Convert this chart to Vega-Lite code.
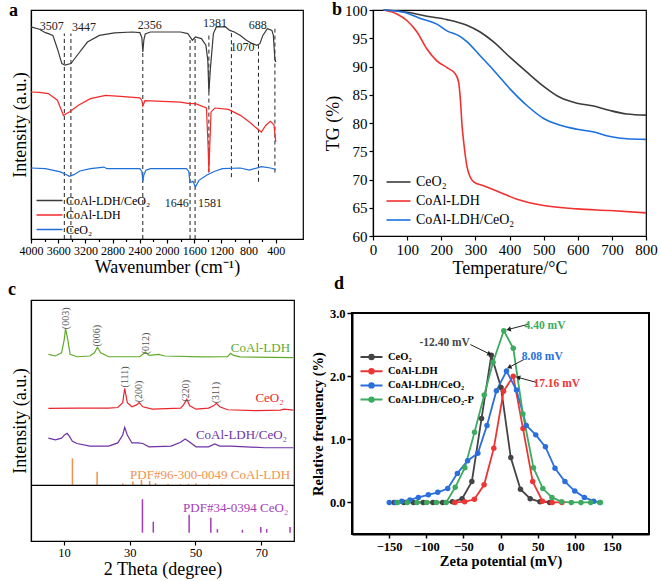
{
"$schema": "https://vega.github.io/schema/vega-lite/v6.json",
"padding": {"left": 7, "top": 0, "right": 0, "bottom": 0},
"background": "white",
"config": {
  "font": "Liberation Serif",
  "view": {"stroke": "black", "strokeWidth": 1.2},
  "axis": {"grid": false, "domainColor": "black", "domainWidth": 1.2, "tickColor": "black", "tickWidth": 1.2, "tickSize": 4, "labelColor": "black", "titleColor": "black", "titleFontWeight": "normal", "labelFlush": false, "labelOverlap": false, "labelPadding": 2, "titlePadding": 4, "labelFont": "Liberation Serif", "titleFont": "Liberation Serif"},
  "legend": {"labelFont": "Liberation Serif", "labelColor": "black", "padding": 0},
  "title": {"font": "Liberation Serif", "fontSize": 18, "fontWeight": "bold", "anchor": "start", "frame": "group", "color": "black"},
  "text": {"font": "Liberation Serif"}
},
"spacing": -3,
"resolve": {"scale": {"color": "independent"}, "legend": {"color": "independent"}},
"vconcat": [
 {"spacing": 19, "resolve": {"scale": {"color": "independent"}, "legend": {"color": "independent"}}, "hconcat": [
  {
   "width": 272, "height": 229,
   "title": {"text": "a", "dx": -22, "offset": -10},
   "resolve": {"axis": {"x": "independent"}},
   "layer": [
    {
     "data": {"values": [
       {"wn": 3510, "lo": 0, "hi": 89.7}, {"wn": 3413, "lo": 0, "hi": 89.7}, {"wn": 2356, "lo": 0, "hi": 81.7},
       {"wn": 1661, "lo": 0, "hi": 86.8}, {"wn": 1587, "lo": 0, "hi": 88.2}, {"wn": 1384, "lo": 29, "hi": 89.7},
       {"wn": 1053, "lo": 27, "hi": 91.1}, {"wn": 655, "lo": 25, "hi": 84.6}, {"wn": 413, "lo": 29, "hi": 91.8}
     ]},
     "mark": {"type": "rule", "strokeDash": [4, 3], "color": "#222", "strokeWidth": 1},
     "encoding": {
       "x": {"field": "wn", "type": "quantitative", "scale": {"domain": [400, 4000], "reverse": true},
             "axis": {"orient": "bottom", "values": [4000, 3600, 3200, 2800, 2400, 2000, 1600, 1200, 800, 400], "format": "d", "title": "Wavenumber (cm⁻¹)", "labelFontSize": 12, "titleFontSize": 18, "titlePadding": 2}},
       "y": {"field": "lo", "type": "quantitative", "scale": {"domain": [0, 100]},
             "axis": {"title": "Intensity (a.u.)", "labels": false, "ticks": false, "titleFontSize": 18, "titlePadding": 2}},
       "y2": {"field": "hi"}
     }
    },
    {
     "data": {"values": [
       {"s": "CoAl-LDH/CeO₂", "wn": 4000, "v": 92.6}, {"s": "CoAl-LDH/CeO₂", "wn": 3877, "v": 91.6}, {"s": "CoAl-LDH/CeO₂", "wn": 3788, "v": 90.1}, {"s": "CoAl-LDH/CeO₂", "wn": 3745, "v": 89.7}, {"s": "CoAl-LDH/CeO₂", "wn": 3678, "v": 88.9}, {"s": "CoAl-LDH/CeO₂", "wn": 3612, "v": 83.1}, {"s": "CoAl-LDH/CeO₂", "wn": 3546, "v": 76.6}, {"s": "CoAl-LDH/CeO₂", "wn": 3501, "v": 75.9}, {"s": "CoAl-LDH/CeO₂", "wn": 3413, "v": 76.6}, {"s": "CoAl-LDH/CeO₂", "wn": 3303, "v": 80.9}, {"s": "CoAl-LDH/CeO₂", "wn": 3170, "v": 86.0}, {"s": "CoAl-LDH/CeO₂", "wn": 2994, "v": 88.9}, {"s": "CoAl-LDH/CeO₂", "wn": 2773, "v": 90.0}, {"s": "CoAl-LDH/CeO₂", "wn": 2508, "v": 90.4}, {"s": "CoAl-LDH/CeO₂", "wn": 2399, "v": 90.1}, {"s": "CoAl-LDH/CeO₂", "wn": 2370, "v": 88.0}, {"s": "CoAl-LDH/CeO₂", "wn": 2355, "v": 81.7}, {"s": "CoAl-LDH/CeO₂", "wn": 2340, "v": 87.0}, {"s": "CoAl-LDH/CeO₂", "wn": 2320, "v": 89.5}, {"s": "CoAl-LDH/CeO₂", "wn": 2244, "v": 90.4}, {"s": "CoAl-LDH/CeO₂", "wn": 1803, "v": 90.4}, {"s": "CoAl-LDH/CeO₂", "wn": 1693, "v": 89.7}, {"s": "CoAl-LDH/CeO₂", "wn": 1627, "v": 86.8}, {"s": "CoAl-LDH/CeO₂", "wn": 1582, "v": 88.2}, {"s": "CoAl-LDH/CeO₂", "wn": 1494, "v": 87.5}, {"s": "CoAl-LDH/CeO₂", "wn": 1428, "v": 84.6}, {"s": "CoAl-LDH/CeO₂", "wn": 1400, "v": 78.0}, {"s": "CoAl-LDH/CeO₂", "wn": 1384, "v": 64.2}, {"s": "CoAl-LDH/CeO₂", "wn": 1362, "v": 74.4}, {"s": "CoAl-LDH/CeO₂", "wn": 1318, "v": 89.7}, {"s": "CoAl-LDH/CeO₂", "wn": 1274, "v": 92.6}, {"s": "CoAl-LDH/CeO₂", "wn": 1141, "v": 92.6}, {"s": "CoAl-LDH/CeO₂", "wn": 1075, "v": 91.1}, {"s": "CoAl-LDH/CeO₂", "wn": 1009, "v": 90.4}, {"s": "CoAl-LDH/CeO₂", "wn": 921, "v": 88.9}, {"s": "CoAl-LDH/CeO₂", "wn": 832, "v": 86.8}, {"s": "CoAl-LDH/CeO₂", "wn": 744, "v": 85.3}, {"s": "CoAl-LDH/CeO₂", "wn": 678, "v": 84.6}, {"s": "CoAl-LDH/CeO₂", "wn": 634, "v": 85.3}, {"s": "CoAl-LDH/CeO₂", "wn": 590, "v": 88.9}, {"s": "CoAl-LDH/CeO₂", "wn": 524, "v": 91.8}, {"s": "CoAl-LDH/CeO₂", "wn": 457, "v": 91.1}, {"s": "CoAl-LDH/CeO₂", "wn": 436, "v": 88.9}, {"s": "CoAl-LDH/CeO₂", "wn": 414, "v": 78.7}, {"s": "CoAl-LDH/CeO₂", "wn": 400, "v": 77.3},
       {"s": "CoAl-LDH", "wn": 4000, "v": 64.2}, {"s": "CoAl-LDH", "wn": 3877, "v": 64.0}, {"s": "CoAl-LDH", "wn": 3745, "v": 63.5}, {"s": "CoAl-LDH", "wn": 3612, "v": 60.6}, {"s": "CoAl-LDH", "wn": 3523, "v": 54.0}, {"s": "CoAl-LDH", "wn": 3435, "v": 55.5}, {"s": "CoAl-LDH", "wn": 3303, "v": 58.4}, {"s": "CoAl-LDH", "wn": 3126, "v": 61.3}, {"s": "CoAl-LDH", "wn": 2905, "v": 62.7}, {"s": "CoAl-LDH", "wn": 2685, "v": 62.3}, {"s": "CoAl-LDH", "wn": 2399, "v": 61.6}, {"s": "CoAl-LDH", "wn": 2370, "v": 60.5}, {"s": "CoAl-LDH", "wn": 2355, "v": 58.1}, {"s": "CoAl-LDH", "wn": 2324, "v": 60.4}, {"s": "CoAl-LDH", "wn": 1803, "v": 59.8}, {"s": "CoAl-LDH", "wn": 1671, "v": 59.1}, {"s": "CoAl-LDH", "wn": 1582, "v": 59.1}, {"s": "CoAl-LDH", "wn": 1420, "v": 57.2}, {"s": "CoAl-LDH", "wn": 1395, "v": 40.0}, {"s": "CoAl-LDH", "wn": 1384, "v": 29.3}, {"s": "CoAl-LDH", "wn": 1372, "v": 40.0}, {"s": "CoAl-LDH", "wn": 1352, "v": 55.5}, {"s": "CoAl-LDH", "wn": 1296, "v": 57.2}, {"s": "CoAl-LDH", "wn": 1097, "v": 56.6}, {"s": "CoAl-LDH", "wn": 921, "v": 54.0}, {"s": "CoAl-LDH", "wn": 788, "v": 51.1}, {"s": "CoAl-LDH", "wn": 656, "v": 47.7}, {"s": "CoAl-LDH", "wn": 612, "v": 46.7}, {"s": "CoAl-LDH", "wn": 546, "v": 49.7}, {"s": "CoAl-LDH", "wn": 480, "v": 51.4}, {"s": "CoAl-LDH", "wn": 427, "v": 49.9}, {"s": "CoAl-LDH", "wn": 410, "v": 45.0}, {"s": "CoAl-LDH", "wn": 400, "v": 42.4},
       {"s": "CeO₂", "wn": 4000, "v": 31.0}, {"s": "CeO₂", "wn": 3788, "v": 30.7}, {"s": "CeO₂", "wn": 3567, "v": 29.3}, {"s": "CeO₂", "wn": 3501, "v": 28.4}, {"s": "CeO₂", "wn": 3435, "v": 27.4}, {"s": "CeO₂", "wn": 3369, "v": 28.1}, {"s": "CeO₂", "wn": 3281, "v": 29.7}, {"s": "CeO₂", "wn": 3126, "v": 30.7}, {"s": "CeO₂", "wn": 2927, "v": 31.4}, {"s": "CeO₂", "wn": 2883, "v": 30.7}, {"s": "CeO₂", "wn": 2399, "v": 30.7}, {"s": "CeO₂", "wn": 2370, "v": 29.5}, {"s": "CeO₂", "wn": 2355, "v": 25.2}, {"s": "CeO₂", "wn": 2340, "v": 28.0}, {"s": "CeO₂", "wn": 2310, "v": 30.0}, {"s": "CeO₂", "wn": 2244, "v": 30.7}, {"s": "CeO₂", "wn": 1715, "v": 30.7}, {"s": "CeO₂", "wn": 1680, "v": 29.5}, {"s": "CeO₂", "wn": 1662, "v": 24.6}, {"s": "CeO₂", "wn": 1618, "v": 25.2}, {"s": "CeO₂", "wn": 1582, "v": 22.7}, {"s": "CeO₂", "wn": 1530, "v": 25.6}, {"s": "CeO₂", "wn": 1406, "v": 28.1}, {"s": "CeO₂", "wn": 1296, "v": 29.6}, {"s": "CeO₂", "wn": 1186, "v": 30.7}, {"s": "CeO₂", "wn": 921, "v": 31.0}, {"s": "CeO₂", "wn": 788, "v": 30.1}, {"s": "CeO₂", "wn": 612, "v": 31.6}, {"s": "CeO₂", "wn": 480, "v": 31.0}, {"s": "CeO₂", "wn": 400, "v": 30.4}
     ]},
     "mark": {"type": "line", "strokeWidth": 1.2},
     "encoding": {
       "x": {"field": "wn", "type": "quantitative", "axis": null},
       "y": {"field": "v", "type": "quantitative"},
       "color": {"field": "s", "type": "nominal",
                 "scale": {"domain": ["CoAl-LDH/CeO₂", "CoAl-LDH", "CeO₂"], "range": ["#3a3a3a", "#f22a2a", "#1f6fd8"]},
                 "legend": {"title": null, "orient": "none", "legendX": 11, "legendY": 183, "labelFontSize": 12, "symbolType": "M-2,0L2,0", "symbolSize": 169, "symbolStrokeWidth": 1.5, "rowPadding": 0.5, "labelOffset": 9}}
     }
    },
    {
     "data": {"values": [
       {"wn": 3696, "v": 93.0, "label": "3507"}, {"wn": 3219, "v": 92.6, "label": "3447"}, {"wn": 2253, "v": 93.4, "label": "2356"},
       {"wn": 1293, "v": 94.3, "label": "1381"}, {"wn": 665, "v": 93.4, "label": "688"}, {"wn": 890, "v": 83.8, "label": "1070"},
       {"wn": 1856, "v": 15.7, "label": "1646"}, {"wn": 1366, "v": 15.7, "label": "1581"}
     ]},
     "mark": {"type": "text", "fontSize": 12, "color": "#222"},
     "encoding": {
       "x": {"field": "wn", "type": "quantitative",
             "axis": {"orient": "bottom", "values": [3800, 3400, 3000, 2600, 2200, 1800, 1400, 1000, 600], "labels": false, "title": null, "domain": false, "tickSize": 2.5}},
       "y": {"field": "v", "type": "quantitative"},
       "text": {"field": "label"}
     }
    }
   ]
  },
  {
   "width": 273, "height": 226,
   "title": {"text": "b", "dx": -41, "offset": -16},
   "data": {"values": [
     {"s": "CeO₂", "T": 31, "TG": 100}, {"s": "CeO₂", "T": 100, "TG": 99.6}, {"s": "CeO₂", "T": 158, "TG": 98.9}, {"s": "CeO₂", "T": 217, "TG": 98.3}, {"s": "CeO₂", "T": 275, "TG": 97.3}, {"s": "CeO₂", "T": 314, "TG": 96.1}, {"s": "CeO₂", "T": 354, "TG": 94.3}, {"s": "CeO₂", "T": 402, "TG": 91.6}, {"s": "CeO₂", "T": 451, "TG": 89.0}, {"s": "CeO₂", "T": 500, "TG": 86.5}, {"s": "CeO₂", "T": 549, "TG": 84.5}, {"s": "CeO₂", "T": 598, "TG": 83.5}, {"s": "CeO₂", "T": 647, "TG": 83.0}, {"s": "CeO₂", "T": 695, "TG": 82.2}, {"s": "CeO₂", "T": 744, "TG": 81.6}, {"s": "CeO₂", "T": 800, "TG": 81.4},
     {"s": "CoAl-LDH", "T": 31, "TG": 100}, {"s": "CoAl-LDH", "T": 70, "TG": 99.3}, {"s": "CoAl-LDH", "T": 100, "TG": 98.1}, {"s": "CoAl-LDH", "T": 129, "TG": 96.1}, {"s": "CoAl-LDH", "T": 158, "TG": 93.1}, {"s": "CoAl-LDH", "T": 187, "TG": 91.0}, {"s": "CoAl-LDH", "T": 217, "TG": 89.8}, {"s": "CoAl-LDH", "T": 241, "TG": 88.7}, {"s": "CoAl-LDH", "T": 251, "TG": 87.2}, {"s": "CoAl-LDH", "T": 256, "TG": 84.2}, {"s": "CoAl-LDH", "T": 261, "TG": 79.5}, {"s": "CoAl-LDH", "T": 266, "TG": 76.5}, {"s": "CoAl-LDH", "T": 275, "TG": 72.4}, {"s": "CoAl-LDH", "T": 285, "TG": 70.4}, {"s": "CoAl-LDH", "T": 295, "TG": 69.6}, {"s": "CoAl-LDH", "T": 324, "TG": 68.9}, {"s": "CoAl-LDH", "T": 373, "TG": 67.7}, {"s": "CoAl-LDH", "T": 422, "TG": 66.5}, {"s": "CoAl-LDH", "T": 500, "TG": 65.4}, {"s": "CoAl-LDH", "T": 598, "TG": 64.8}, {"s": "CoAl-LDH", "T": 695, "TG": 64.5}, {"s": "CoAl-LDH", "T": 800, "TG": 64.1},
     {"s": "CoAl-LDH/CeO₂", "T": 31, "TG": 100}, {"s": "CoAl-LDH/CeO₂", "T": 90, "TG": 99.6}, {"s": "CoAl-LDH/CeO₂", "T": 139, "TG": 98.5}, {"s": "CoAl-LDH/CeO₂", "T": 187, "TG": 97.5}, {"s": "CoAl-LDH/CeO₂", "T": 217, "TG": 96.3}, {"s": "CoAl-LDH/CeO₂", "T": 256, "TG": 95.3}, {"s": "CoAl-LDH/CeO₂", "T": 275, "TG": 94.4}, {"s": "CoAl-LDH/CeO₂", "T": 314, "TG": 91.9}, {"s": "CoAl-LDH/CeO₂", "T": 354, "TG": 89.3}, {"s": "CoAl-LDH/CeO₂", "T": 402, "TG": 86.0}, {"s": "CoAl-LDH/CeO₂", "T": 451, "TG": 83.1}, {"s": "CoAl-LDH/CeO₂", "T": 500, "TG": 80.8}, {"s": "CoAl-LDH/CeO₂", "T": 549, "TG": 79.6}, {"s": "CoAl-LDH/CeO₂", "T": 598, "TG": 78.9}, {"s": "CoAl-LDH/CeO₂", "T": 647, "TG": 78.4}, {"s": "CoAl-LDH/CeO₂", "T": 695, "TG": 77.6}, {"s": "CoAl-LDH/CeO₂", "T": 744, "TG": 77.2}, {"s": "CoAl-LDH/CeO₂", "T": 800, "TG": 77.1}
   ]},
   "mark": {"type": "line", "strokeWidth": 1.6, "interpolate": "monotone"},
   "encoding": {
     "x": {"field": "T", "type": "quantitative", "scale": {"domain": [0, 800]},
           "axis": {"values": [0, 100, 200, 300, 400, 500, 600, 700, 800], "title": "Temperature/°C", "labelFontSize": 15, "titleFontSize": 18, "titlePadding": 2}},
     "y": {"field": "TG", "type": "quantitative", "scale": {"domain": [60, 100]},
           "axis": {"values": [60, 65, 70, 75, 80, 85, 90, 95, 100], "title": "TG (%)", "labelFontSize": 15, "titleFontSize": 18, "titlePadding": 2}},
     "color": {"field": "s", "type": "nominal",
               "scale": {"domain": ["CeO₂", "CoAl-LDH", "CoAl-LDH/CeO₂"], "range": ["#3c3c3c", "#f23030", "#1a70e0"]},
               "legend": {"title": null, "orient": "none", "legendX": 18.5, "legendY": 165, "labelFontSize": 14, "symbolType": "M-2,0L2,0", "symbolSize": 144, "symbolStrokeWidth": 1.6, "rowPadding": 5, "labelOffset": 10.5}}
   }
  }
 ]},
 {"spacing": 12, "resolve": {"scale": {"color": "independent"}, "legend": {"color": "independent"}}, "hconcat": [
  {
   "width": 263, "height": 241,
   "title": {"text": "c", "dx": -23, "offset": 1},
   "layer": [
    {
     "data": {"values": [
       {"s": "CoAl-LDH", "t": 5.3, "v": 70.7}, {"s": "CoAl-LDH", "t": 7.4, "v": 69.8}, {"s": "CoAl-LDH", "t": 9.3, "v": 71.5}, {"s": "CoAl-LDH", "t": 10.1, "v": 78.5}, {"s": "CoAl-LDH", "t": 10.5, "v": 84.5}, {"s": "CoAl-LDH", "t": 11.2, "v": 78.5}, {"s": "CoAl-LDH", "t": 11.9, "v": 70.7}, {"s": "CoAl-LDH", "t": 14.0, "v": 69.4}, {"s": "CoAl-LDH", "t": 17.9, "v": 69.8}, {"s": "CoAl-LDH", "t": 19.3, "v": 71.5}, {"s": "CoAl-LDH", "t": 20.2, "v": 74.5}, {"s": "CoAl-LDH", "t": 21.2, "v": 71.5}, {"s": "CoAl-LDH", "t": 23.6, "v": 69.4}, {"s": "CoAl-LDH", "t": 33.1, "v": 69.4}, {"s": "CoAl-LDH", "t": 34.0, "v": 70.7}, {"s": "CoAl-LDH", "t": 34.8, "v": 71.9}, {"s": "CoAl-LDH", "t": 35.9, "v": 70.1}, {"s": "CoAl-LDH", "t": 38.8, "v": 70.7}, {"s": "CoAl-LDH", "t": 40.7, "v": 69.8}, {"s": "CoAl-LDH", "t": 52.1, "v": 69.3}, {"s": "CoAl-LDH", "t": 59.8, "v": 69.4}, {"s": "CoAl-LDH", "t": 60.7, "v": 71.2}, {"s": "CoAl-LDH", "t": 61.7, "v": 70.1}, {"s": "CoAl-LDH", "t": 63.6, "v": 69.3}, {"s": "CoAl-LDH", "t": 79.8, "v": 68.9},
       {"s": "CeO₂", "t": 5.3, "v": 41.5}, {"s": "CeO₂", "t": 14.0, "v": 41.7}, {"s": "CeO₂", "t": 23.6, "v": 41.7}, {"s": "CeO₂", "t": 26.4, "v": 42.0}, {"s": "CeO₂", "t": 27.9, "v": 44.6}, {"s": "CeO₂", "t": 28.5, "v": 52.4}, {"s": "CeO₂", "t": 29.3, "v": 44.6}, {"s": "CeO₂", "t": 30.7, "v": 42.4}, {"s": "CeO₂", "t": 32.1, "v": 43.4}, {"s": "CeO₂", "t": 32.9, "v": 44.6}, {"s": "CeO₂", "t": 34.0, "v": 42.4}, {"s": "CeO₂", "t": 36.9, "v": 41.1}, {"s": "CeO₂", "t": 45.5, "v": 41.7}, {"s": "CeO₂", "t": 46.4, "v": 43.4}, {"s": "CeO₂", "t": 47.4, "v": 46.4}, {"s": "CeO₂", "t": 48.3, "v": 42.9}, {"s": "CeO₂", "t": 50.2, "v": 41.1}, {"s": "CeO₂", "t": 54.0, "v": 41.7}, {"s": "CeO₂", "t": 55.5, "v": 42.9}, {"s": "CeO₂", "t": 56.4, "v": 44.3}, {"s": "CeO₂", "t": 57.4, "v": 42.4}, {"s": "CeO₂", "t": 59.8, "v": 40.8}, {"s": "CeO₂", "t": 68.3, "v": 40.3}, {"s": "CeO₂", "t": 75.9, "v": 40.6}, {"s": "CeO₂", "t": 76.9, "v": 41.1}, {"s": "CeO₂", "t": 79.8, "v": 40.6},
       {"s": "CoAl-LDH/CeO₂", "t": 5.3, "v": 25.5}, {"s": "CoAl-LDH/CeO₂", "t": 7.4, "v": 24.6}, {"s": "CoAl-LDH/CeO₂", "t": 9.3, "v": 25.5}, {"s": "CoAl-LDH/CeO₂", "t": 10.2, "v": 27.2}, {"s": "CoAl-LDH/CeO₂", "t": 11.0, "v": 28.1}, {"s": "CoAl-LDH/CeO₂", "t": 11.7, "v": 26.4}, {"s": "CoAl-LDH/CeO₂", "t": 12.6, "v": 23.8}, {"s": "CoAl-LDH/CeO₂", "t": 14.0, "v": 22.6}, {"s": "CoAl-LDH/CeO₂", "t": 17.9, "v": 21.2}, {"s": "CoAl-LDH/CeO₂", "t": 23.6, "v": 21.2}, {"s": "CoAl-LDH/CeO₂", "t": 26.4, "v": 22.9}, {"s": "CoAl-LDH/CeO₂", "t": 27.9, "v": 27.2}, {"s": "CoAl-LDH/CeO₂", "t": 28.5, "v": 31.3}, {"s": "CoAl-LDH/CeO₂", "t": 29.3, "v": 27.2}, {"s": "CoAl-LDH/CeO₂", "t": 30.7, "v": 22.9}, {"s": "CoAl-LDH/CeO₂", "t": 32.6, "v": 22.9}, {"s": "CoAl-LDH/CeO₂", "t": 34.0, "v": 22.6}, {"s": "CoAl-LDH/CeO₂", "t": 35.9, "v": 20.8}, {"s": "CoAl-LDH/CeO₂", "t": 42.6, "v": 21.2}, {"s": "CoAl-LDH/CeO₂", "t": 45.5, "v": 23.3}, {"s": "CoAl-LDH/CeO₂", "t": 46.9, "v": 25.0}, {"s": "CoAl-LDH/CeO₂", "t": 47.9, "v": 23.8}, {"s": "CoAl-LDH/CeO₂", "t": 50.2, "v": 20.8}, {"s": "CoAl-LDH/CeO₂", "t": 54.0, "v": 20.8}, {"s": "CoAl-LDH/CeO₂", "t": 55.9, "v": 22.4}, {"s": "CoAl-LDH/CeO₂", "t": 57.4, "v": 21.2}, {"s": "CoAl-LDH/CeO₂", "t": 60.7, "v": 21.2}, {"s": "CoAl-LDH/CeO₂", "t": 71.2, "v": 20.3}, {"s": "CoAl-LDH/CeO₂", "t": 79.8, "v": 20.3}
     ]},
     "mark": {"type": "line", "strokeWidth": 1.2},
     "encoding": {
       "x": {"field": "t", "type": "quantitative", "scale": {"domain": [5, 80]},
             "axis": {"values": [10, 20, 30, 40, 50, 60, 70, 80], "title": "2 Theta (degree)", "labelFontSize": 12.5, "titleFontSize": 18, "labelPadding": 1, "titlePadding": 2}},
       "y": {"field": "v", "type": "quantitative", "scale": {"domain": [-25.5, 100]},
             "axis": {"title": "Intensity (a.u.)", "labels": false, "ticks": false, "titleFontSize": 18, "titlePadding": 2}},
       "color": {"field": "s", "type": "nominal", "legend": null,
                 "scale": {"domain": ["CoAl-LDH", "CeO₂", "CoAl-LDH/CeO₂", "PDF#96-300-0049 CoAl-LDH", "PDF#34-0394 CeO₂"], "range": ["#62aa2c", "#e8262d", "#6e32a6", "#f2924a", "#a43cb8"]}}
     }
    },
    {
     "data": {"values": [
       {"s": "PDF#96-300-0049 CoAl-LDH", "t": 12.6, "top": 14.6, "base": 0}, {"s": "PDF#96-300-0049 CoAl-LDH", "t": 20.1, "top": 7.3, "base": 0}, {"s": "PDF#96-300-0049 CoAl-LDH", "t": 27.9, "top": 0.9, "base": 0}, {"s": "PDF#96-300-0049 CoAl-LDH", "t": 31.0, "top": 2.1, "base": 0}, {"s": "PDF#96-300-0049 CoAl-LDH", "t": 33.6, "top": 3.0, "base": 0}, {"s": "PDF#96-300-0049 CoAl-LDH", "t": 36.1, "top": 2.4, "base": 0}, {"s": "PDF#96-300-0049 CoAl-LDH", "t": 37.9, "top": 1.2, "base": 0}, {"s": "PDF#96-300-0049 CoAl-LDH", "t": 41.7, "top": 0.7, "base": 0}, {"s": "PDF#96-300-0049 CoAl-LDH", "t": 45.5, "top": 0.7, "base": 0}, {"s": "PDF#96-300-0049 CoAl-LDH", "t": 47.9, "top": 0.8, "base": 0}, {"s": "PDF#96-300-0049 CoAl-LDH", "t": 50.2, "top": 1.0, "base": 0}, {"s": "PDF#96-300-0049 CoAl-LDH", "t": 54.1, "top": 0.6, "base": 0}, {"s": "PDF#96-300-0049 CoAl-LDH", "t": 57.9, "top": 0.6, "base": 0},
       {"s": "PDF#34-0394 CeO₂", "t": 33.9, "top": -7.5, "base": -25.5}, {"s": "PDF#34-0394 CeO₂", "t": 37.2, "top": -19.6, "base": -25.5}, {"s": "PDF#34-0394 CeO₂", "t": 48.1, "top": -15.8, "base": -25.5}, {"s": "PDF#34-0394 CeO₂", "t": 54.7, "top": -17.5, "base": -25.5}, {"s": "PDF#34-0394 CeO₂", "t": 56.7, "top": -23.6, "base": -25.5}, {"s": "PDF#34-0394 CeO₂", "t": 64.3, "top": -24.0, "base": -25.5}, {"s": "PDF#34-0394 CeO₂", "t": 69.9, "top": -22.5, "base": -25.5}, {"s": "PDF#34-0394 CeO₂", "t": 71.7, "top": -23.6, "base": -25.5}, {"s": "PDF#34-0394 CeO₂", "t": 78.8, "top": -22.5, "base": -25.5}
     ]},
     "mark": {"type": "rule", "strokeWidth": 1.5},
     "encoding": {
       "x": {"field": "t", "type": "quantitative"},
       "y": {"field": "top", "type": "quantitative"},
       "y2": {"field": "base"},
       "color": {"field": "s", "type": "nominal", "legend": null}
     }
    },
    {
     "data": {"values": [{"y": 0}]},
     "mark": {"type": "rule", "color": "black", "strokeWidth": 1.2},
     "encoding": {"y": {"field": "y", "type": "quantitative"}}
    },
    {
     "data": {"values": [
       {"t": 10.7, "v": 90.1, "label": "(003)"}, {"t": 20.1, "v": 80.7, "label": "(006)"}, {"t": 35.0, "v": 76.6, "label": "(012)"},
       {"t": 28.5, "v": 58.5, "label": "(111)"}, {"t": 33.0, "v": 50.7, "label": "(200)"}, {"t": 47.3, "v": 51.0, "label": "(220)"}, {"t": 56.4, "v": 50.0, "label": "(311)"}
     ]},
     "mark": {"type": "text", "fontSize": 10, "angle": 270, "color": "#555", "baseline": "middle", "align": "center"},
     "encoding": {"x": {"field": "t", "type": "quantitative"}, "y": {"field": "v", "type": "quantitative"}, "text": {"field": "label"}}
    },
    {
     "data": {"values": [
       {"s": "CoAl-LDH", "t": 78.8, "v": 74.1, "label": "CoAl-LDH"},
       {"s": "CeO₂", "t": 76.9, "v": 47.4, "label": "CeO₂"},
       {"s": "CoAl-LDH/CeO₂", "t": 77.9, "v": 27.2, "label": "CoAl-LDH/CeO₂"},
       {"s": "PDF#96-300-0049 CoAl-LDH", "t": 78.8, "v": 5.7, "label": "PDF#96-300-0049 CoAl-LDH"},
       {"s": "PDF#34-0394 CeO₂", "t": 78.3, "v": -12.0, "label": "PDF#34-0394 CeO₂"}
     ]},
     "mark": {"type": "text", "fontSize": 13, "align": "right", "baseline": "middle"},
     "encoding": {"x": {"field": "t", "type": "quantitative"}, "y": {"field": "v", "type": "quantitative"}, "text": {"field": "label"}, "color": {"field": "s", "type": "nominal", "legend": null}}
    }
   ]
  },
  {"spacing": 5, "vconcat": [
  {
   "width": 297, "height": 1,
   "title": {"text": "d", "dx": -18, "offset": 7},
   "view": {"stroke": null},
   "data": {"values": []},
   "mark": "point"
  },
  {
   "width": 297, "height": 221,
   "view": {"stroke": "black", "strokeWidth": 2},
   "layer": [
    {
     "data": {"values": [
       {"s": "CeO₂", "z": -143.4, "f": 0}, {"s": "CeO₂", "z": -130.3, "f": 0}, {"s": "CeO₂", "z": -117.2, "f": 0}, {"s": "CeO₂", "z": -104.1, "f": 0}, {"s": "CeO₂", "z": -91.0, "f": 0}, {"s": "CeO₂", "z": -77.9, "f": 0}, {"s": "CeO₂", "z": -64.8, "f": 0.01}, {"s": "CeO₂", "z": -51.7, "f": 0.06}, {"s": "CeO₂", "z": -38.6, "f": 0.33}, {"s": "CeO₂", "z": -25.5, "f": 1.33}, {"s": "CeO₂", "z": -12.4, "f": 2.33}, {"s": "CeO₂", "z": 0.7, "f": 1.82}, {"s": "CeO₂", "z": 13.8, "f": 0.71}, {"s": "CeO₂", "z": 26.9, "f": 0.21}, {"s": "CeO₂", "z": 40.0, "f": 0.06}, {"s": "CeO₂", "z": 53.1, "f": 0.01}, {"s": "CeO₂", "z": 66.2, "f": 0},
       {"s": "CoAl-LDH", "z": -61.4, "f": 0}, {"s": "CoAl-LDH", "z": -48.3, "f": 0.01}, {"s": "CoAl-LDH", "z": -35.2, "f": 0.05}, {"s": "CoAl-LDH", "z": -22.1, "f": 0.28}, {"s": "CoAl-LDH", "z": -9.0, "f": 0.86}, {"s": "CoAl-LDH", "z": 4.1, "f": 1.76}, {"s": "CoAl-LDH", "z": 17.16, "f": 2.0}, {"s": "CoAl-LDH", "z": 30.3, "f": 1.17}, {"s": "CoAl-LDH", "z": 43.4, "f": 0.33}, {"s": "CoAl-LDH", "z": 56.5, "f": 0.02}, {"s": "CoAl-LDH", "z": 69.6, "f": 0}, {"s": "CoAl-LDH", "z": 82.7, "f": 0},
       {"s": "CoAl-LDH/CeO₂", "z": -149.8, "f": 0}, {"s": "CoAl-LDH/CeO₂", "z": -141, "f": 0}, {"s": "CoAl-LDH/CeO₂", "z": -133, "f": 0.02}, {"s": "CoAl-LDH/CeO₂", "z": -122, "f": 0.04}, {"s": "CoAl-LDH/CeO₂", "z": -110.6, "f": 0.08}, {"s": "CoAl-LDH/CeO₂", "z": -97.2, "f": 0.12}, {"s": "CoAl-LDH/CeO₂", "z": -84.5, "f": 0.16}, {"s": "CoAl-LDH/CeO₂", "z": -71.1, "f": 0.22}, {"s": "CoAl-LDH/CeO₂", "z": -58.1, "f": 0.46}, {"s": "CoAl-LDH/CeO₂", "z": -44.3, "f": 0.66}, {"s": "CoAl-LDH/CeO₂", "z": -30.5, "f": 0.78}, {"s": "CoAl-LDH/CeO₂", "z": -18.2, "f": 1.22}, {"s": "CoAl-LDH/CeO₂", "z": -5.5, "f": 1.77}, {"s": "CoAl-LDH/CeO₂", "z": 8.08, "f": 2.08}, {"s": "CoAl-LDH/CeO₂", "z": 21.5, "f": 1.78}, {"s": "CoAl-LDH/CeO₂", "z": 34.7, "f": 1.22}, {"s": "CoAl-LDH/CeO₂", "z": 47.5, "f": 1.07}, {"s": "CoAl-LDH/CeO₂", "z": 60.5, "f": 0.88}, {"s": "CoAl-LDH/CeO₂", "z": 73.4, "f": 0.54}, {"s": "CoAl-LDH/CeO₂", "z": 86.8, "f": 0.33}, {"s": "CoAl-LDH/CeO₂", "z": 100, "f": 0.18}, {"s": "CoAl-LDH/CeO₂", "z": 113, "f": 0.08}, {"s": "CoAl-LDH/CeO₂", "z": 125.5, "f": 0.02}, {"s": "CoAl-LDH/CeO₂", "z": 134, "f": 0},
       {"s": "CoAl-LDH/CeO₂-P", "z": -138.6, "f": 0}, {"s": "CoAl-LDH/CeO₂-P", "z": -125.5, "f": 0}, {"s": "CoAl-LDH/CeO₂-P", "z": -112.4, "f": 0}, {"s": "CoAl-LDH/CeO₂-P", "z": -99.3, "f": 0}, {"s": "CoAl-LDH/CeO₂-P", "z": -86.2, "f": 0}, {"s": "CoAl-LDH/CeO₂-P", "z": -73.1, "f": 0}, {"s": "CoAl-LDH/CeO₂-P", "z": -61.0, "f": 0.24}, {"s": "CoAl-LDH/CeO₂-P", "z": -48.0, "f": 0.55}, {"s": "CoAl-LDH/CeO₂-P", "z": -35.0, "f": 1.11}, {"s": "CoAl-LDH/CeO₂-P", "z": -21.9, "f": 1.70}, {"s": "CoAl-LDH/CeO₂-P", "z": -10.0, "f": 2.22}, {"s": "CoAl-LDH/CeO₂-P", "z": 4.4, "f": 2.72}, {"s": "CoAl-LDH/CeO₂-P", "z": 17.2, "f": 2.44}, {"s": "CoAl-LDH/CeO₂-P", "z": 30.2, "f": 1.40}, {"s": "CoAl-LDH/CeO₂-P", "z": 44.4, "f": 0.55}, {"s": "CoAl-LDH/CeO₂-P", "z": 57.0, "f": 0.22}, {"s": "CoAl-LDH/CeO₂-P", "z": 69.3, "f": 0.08}, {"s": "CoAl-LDH/CeO₂-P", "z": 82.4, "f": 0.01}, {"s": "CoAl-LDH/CeO₂-P", "z": 95.4, "f": 0}, {"s": "CoAl-LDH/CeO₂-P", "z": 108.4, "f": 0}, {"s": "CoAl-LDH/CeO₂-P", "z": 121.5, "f": 0}, {"s": "CoAl-LDH/CeO₂-P", "z": 134.5, "f": 0}
     ]},
     "mark": {"type": "line", "strokeWidth": 1.8, "point": {"filled": true, "size": 30}},
     "encoding": {
       "x": {"field": "z", "type": "quantitative", "scale": {"domain": [-170, 162]},
             "axis": {"values": [-150, -100, -50, 0, 50, 100, 150], "title": "Zeta potential (mV)", "labelFontSize": 12.5, "titleFontSize": 14.5, "labelFontWeight": "bold", "titleFontWeight": "bold", "tickSize": 4, "tickWidth": 1.5, "domainWidth": 2, "labelPadding": 2, "titlePadding": 2}},
       "y": {"field": "f", "type": "quantitative", "scale": {"domain": [-0.25, 3.0]},
             "axis": {"values": [0, 0.5, 1.0, 1.5, 2.0, 2.5, 3.0], "format": ".1f", "title": "Relative frequency (%)", "labelFontSize": 12.5, "titleFontSize": 14.5, "labelFontWeight": "bold", "titleFontWeight": "bold", "tickSize": 5, "tickWidth": 1.5, "domainWidth": 2, "titlePadding": 4}},
       "color": {"field": "s", "type": "nominal",
                 "scale": {"domain": ["CeO₂", "CoAl-LDH", "CoAl-LDH/CeO₂", "CoAl-LDH/CeO₂-P"], "range": ["#444444", "#ee3535", "#2a6fdc", "#3cab60"]},
                 "legend": {"title": null, "orient": "none", "legendX": 13, "legendY": 50.5, "labelFontSize": 10.5, "labelFontWeight": "bold", "symbolType": "M-2,0L2,0M-0.4,0A0.4,0.4,0,1,1,0.4,0A0.4,0.4,0,1,1,-0.4,0", "symbolSize": 121, "symbolStrokeWidth": 2, "rowPadding": 1.2, "labelOffset": 10}}
     }
    },
    {
     "data": {"values": [
       {"x1": -40.6, "y1": 2.50, "x2": -14.5, "y2": 2.35, "ang": 113},
       {"x1": 36.9, "y1": 2.82, "x2": 10.8, "y2": 2.74, "ang": 257},
       {"x1": 31.0, "y1": 2.26, "x2": 11.6, "y2": 2.14, "ang": 244},
       {"x1": 48.8, "y1": 1.90, "x2": 23.5, "y2": 1.98, "ang": 284}
     ]},
     "layer": [
      {"mark": {"type": "rule", "color": "#222", "strokeWidth": 1},
       "encoding": {"x": {"field": "x1", "type": "quantitative"}, "y": {"field": "y1", "type": "quantitative"}, "x2": {"field": "x2"}, "y2": {"field": "y2"}}},
      {"mark": {"type": "point", "shape": "triangle-up", "filled": true, "color": "#222", "size": 28, "opacity": 1},
       "encoding": {"x": {"field": "x2", "type": "quantitative"}, "y": {"field": "y2", "type": "quantitative"}, "angle": {"field": "ang", "type": "quantitative", "scale": null}}}
     ]
    },
    {
     "data": {"values": [
       {"s": "CeO₂", "z": -75.2, "f": 2.53, "label": "-12.40 mV"},
       {"s": "CoAl-LDH/CeO₂-P", "z": 60.0, "f": 2.79, "label": "4.40 mV"},
       {"s": "CoAl-LDH/CeO₂", "z": 56.3, "f": 2.31, "label": "8.08 mV"},
       {"s": "CoAl-LDH", "z": 75.7, "f": 1.88, "label": "17.16 mV"}
     ]},
     "mark": {"type": "text", "fontSize": 11.5, "fontWeight": "bold", "baseline": "middle", "align": "center"},
     "encoding": {"x": {"field": "z", "type": "quantitative"}, "y": {"field": "f", "type": "quantitative"}, "text": {"field": "label"}, "color": {"field": "s", "type": "nominal", "legend": null}}
    }
   ]
  }]}
 ]}
]
}
